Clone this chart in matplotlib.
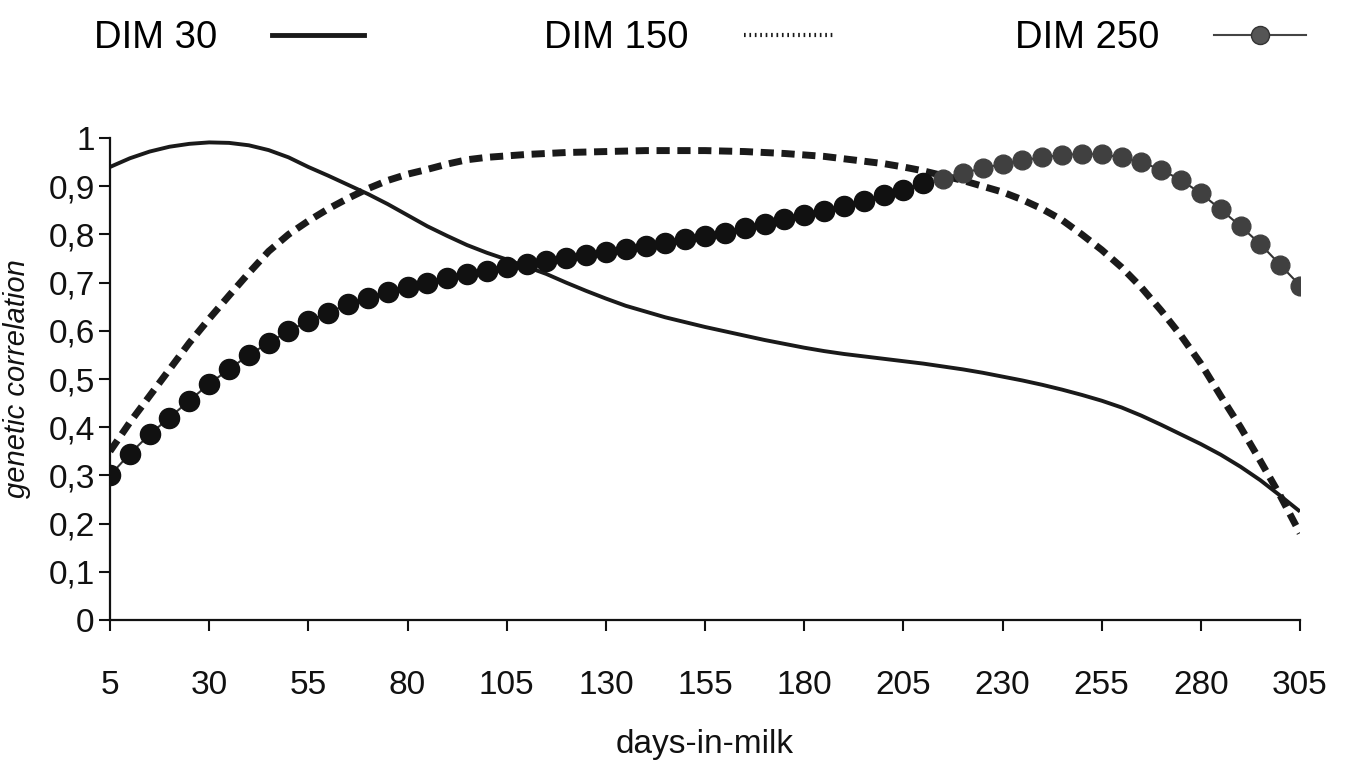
import matplotlib
matplotlib.use("Agg")
import matplotlib.pyplot as plt
from matplotlib.lines import Line2D
import numpy as np

plt.rcParams['font.family'] = ['Liberation Sans', 'DejaVu Sans']

# days-in-milk grid (every 5 days)
days = list(range(5, 306, 5))

# genetic correlation with DIM 30 (solid line)
dim30 = [0.94, 0.958, 0.972, 0.982, 0.988, 0.991, 0.99, 0.985, 0.975, 0.96,
         0.94, 0.922, 0.903, 0.884, 0.863, 0.84, 0.817, 0.797, 0.778, 0.762,
         0.748, 0.733, 0.718, 0.70, 0.683, 0.667, 0.652, 0.64, 0.628, 0.618,
         0.608, 0.599, 0.59, 0.581, 0.573, 0.565, 0.558, 0.552, 0.547, 0.542,
         0.537, 0.532, 0.526, 0.52, 0.513, 0.505, 0.497, 0.488, 0.478, 0.467,
         0.455, 0.441, 0.424, 0.405, 0.385, 0.365, 0.343, 0.318, 0.29, 0.258,
         0.225]

# genetic correlation with DIM 150 (dashed line)
dim150 = [0.35, 0.41, 0.465, 0.52, 0.575, 0.625, 0.673, 0.72, 0.765, 0.80,
          0.828, 0.853, 0.875, 0.895, 0.912, 0.925, 0.935, 0.946, 0.955, 0.96,
          0.963, 0.966, 0.968, 0.97, 0.971, 0.972, 0.973, 0.974, 0.974, 0.974,
          0.974, 0.973, 0.972, 0.97, 0.968, 0.965, 0.962, 0.957, 0.952, 0.947,
          0.94, 0.932, 0.922, 0.912, 0.90, 0.888, 0.872, 0.853, 0.83, 0.80,
          0.768, 0.732, 0.69, 0.642, 0.59, 0.532, 0.465, 0.40, 0.33, 0.258,
          0.18]

# genetic correlation with DIM 250 (line with dots)
dim250 = [0.30, 0.345, 0.385, 0.42, 0.455, 0.49, 0.52, 0.55, 0.575, 0.60,
          0.62, 0.638, 0.655, 0.668, 0.68, 0.69, 0.70, 0.71, 0.718, 0.725,
          0.732, 0.738, 0.745, 0.751, 0.757, 0.763, 0.77, 0.776, 0.783, 0.79,
          0.797, 0.804, 0.813, 0.822, 0.832, 0.84, 0.849, 0.86, 0.869, 0.882,
          0.892, 0.906, 0.916, 0.928, 0.937, 0.947, 0.954, 0.96, 0.965, 0.967,
          0.966, 0.96, 0.95, 0.934, 0.913, 0.885, 0.852, 0.817, 0.78, 0.737,
          0.694]

xticks = [5, 30, 55, 80, 105, 130, 155, 180, 205, 230, 255, 280, 305]
yticks = [0, 0.1, 0.2, 0.3, 0.4, 0.5, 0.6, 0.7, 0.8, 0.9, 1]
ytick_labels = ['0', '0,1', '0,2', '0,3', '0,4', '0,5', '0,6', '0,7', '0,8', '0,9', '1']

fig = plt.figure(figsize=(13.48, 7.67), dpi=100)
ax = fig.add_axes([0.0816, 0.1917, 0.8828, 0.6283])

ax.plot(days, dim30, color='#1a1a1a', lw=2.8, solid_capstyle='butt')
ax.plot(days, dim150, color='#1a1a1a', lw=5, linestyle=(0, (1.9, 1.1)))

# dots: black in the middle, greyer and a bit smaller towards the end (as in the scan)
d = np.array(days)
v250 = np.array(dim250)
ax.plot(d, v250, color='#333333', lw=1.5, zorder=3)
late = d >= 215
ax.plot(d[~late], v250[~late], 'o', color='#111111', ms=14.5, zorder=4)
ax.plot(d[late], v250[late], 'o', color='#404040', ms=13.5, zorder=4)

ax.set_xlim(5, 305)
ax.set_ylim(0, 1)
ax.set_xticks(xticks)
ax.set_yticks(yticks)
ax.set_yticklabels(ytick_labels)
ax.tick_params(axis='x', labelsize=24, length=8, width=1.5, pad=28, colors='#111111')
ax.tick_params(axis='y', labelsize=24, length=8, width=1.5, pad=3, colors='#111111')
for s in ['top', 'right']:
    ax.spines[s].set_visible(False)
for s in ['left', 'bottom']:
    ax.spines[s].set_linewidth(1.6)
    ax.spines[s].set_color('#111111')

ax.set_xlabel('days-in-milk', fontsize=24, color='#111111')
ax.xaxis.set_label_coords(0.5, -0.227)
ax.set_ylabel('genetic correlation', fontsize=21, style='italic', color='#111111')
ax.yaxis.set_label_coords(-0.066, 0.5)

# legend across the top, label first then the line sample
handles = [
    Line2D([], [], color='#1a1a1a', lw=3.5),
    Line2D([], [], color='#1a1a1a', lw=3, linestyle=(0, (0.4, 0.9))),
    Line2D([], [], color='#444444', lw=1.5, marker='o', ms=13,
           markerfacecolor='#555555', markeredgecolor='#333333'),
]
labels = ['DIM 30', 'DIM 150', 'DIM 250']
fig.legend(handles, labels, loc='center', bbox_to_anchor=(700 / 1348, 1 - 38 / 767),
           ncol=3, frameon=False, markerfirst=False, fontsize=27.5,
           handlelength=2.4, handletextpad=1.45, columnspacing=4.7)

fig.savefig('out.png', dpi=100)
